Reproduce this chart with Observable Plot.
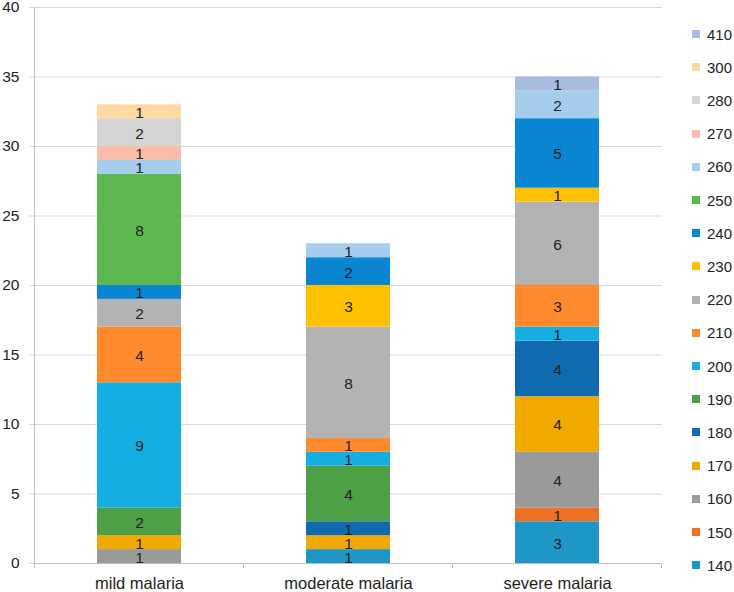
<!DOCTYPE html>
<html>
<head>
<meta charset="utf-8">
<script src="https://cdn.jsdelivr.net/npm/d3@7"></script>
<script src="https://cdn.jsdelivr.net/npm/@observablehq/plot@0.6"></script>
<style>
  html, body { margin: 0; padding: 0; background: #fff; }
  #wrap { position: relative; width: 734px; height: 592px; font-family: "Liberation Sans", Arial, sans-serif; }
  #legend { position: absolute; left: 692px; top: 0; }
  .item { position: absolute; left: 0; display: flex; align-items: center; white-space: nowrap; font-size: 15px; color: #222; }
  .sw { width: 8px; height: 8px; margin-right: 7px; flex: none; }
</style>
</head>
<body>
<div id="wrap"><div id="chart"></div><div id="legend"></div></div>
<script>
const categories = ["mild malaria", "moderate malaria", "severe malaria"];
const sizes = ["140","150","160","170","180","190","200","210","220","230","240","250","260","270","280","300","410"];
const colors = ["#1F97C6","#EC7125","#9A9A9A","#F0A900","#0F6BAE","#4EA047","#14AEE2","#FF8A2E","#B3B3B3","#FFC000","#0A85D2","#5DB852","#A6CDEB","#FCBCAA","#D4D4D4","#FFD9A3","#A7BCDF"];
const mild     = [0,0,1,1,0,2,9,4,2,0,1,8,1,1,2,1,0];
const moderate = [1,0,0,1,1,4,1,1,8,3,2,0,1,0,0,0,0];
const severe   = [3,1,4,4,4,0,1,3,6,1,5,0,2,0,0,0,1];
const yTicks = [0,5,10,15,20,25,30,35,40];

const series = [mild, moderate, severe];
const rows = [];
categories.forEach((c, ci) => {
  sizes.forEach((s, si) => {
    const n = series[ci][si];
    if (n > 0) rows.push({cat: c, size: s, n});
  });
});

const boundaryTicks = (index, scales, values, dims) => {
  const x = scales.x;
  const step = x.step ? x.step() : (x.bandwidth() / 0.4);
  const g = d3.create("svg:g").attr("stroke", "#bfbfbf").attr("stroke-width", 1);
  const y0 = dims.height - dims.marginBottom;
  const xs = [];
  categories.forEach((c) => { xs.push(x(c) + x.bandwidth() / 2 - step / 2); });
  xs.push(x(categories[categories.length - 1]) + x.bandwidth() / 2 + step / 2);
  xs.forEach(px => g.append("line").attr("x1", px).attr("x2", px).attr("y1", y0).attr("y2", y0 + 5));
  return g.node();
};

const chart = Plot.plot({
  width: 670,
  height: 592,
  marginLeft: 34,
  marginRight: 8,
  marginTop: 7,
  marginBottom: 29,
  style: { fontFamily: "Liberation Sans, Arial, sans-serif", background: "#fff" },
  x: { domain: categories, paddingInner: 0.6, paddingOuter: 0.3, label: null },
  y: { domain: [0, 40], ticks: yTicks, label: null },
  color: { domain: sizes, range: colors },
  marks: [
    Plot.gridY(yTicks, { stroke: "#d9d9d9", strokeOpacity: 1 }),
    Plot.axisY(yTicks, { tickSize: 5, tickPadding: 10, stroke: "#d9d9d9", fontSize: 15.5, fill: "#222", label: null }),
    Plot.axisX({ tickSize: 0, tickPadding: 14, fontSize: 16.5, fill: "#222", label: null }),
    Plot.barY(rows, Plot.stackY({ x: "cat", y: "n", z: "size", fill: "size", order: sizes })),
    Plot.text(rows, Plot.stackY({ x: "cat", y: "n", z: "size", text: "n", order: sizes, fill: "#222", fontSize: 15.5, dy: 1 })),
    Plot.frame({ anchor: "left", stroke: "#bfbfbf" }),
    Plot.ruleY([0], { stroke: "#bfbfbf" }),
    boundaryTicks
  ]
});
document.getElementById("chart").appendChild(chart);

const legend = document.getElementById("legend");
const top0 = 34, gap = 33.2;
sizes.slice().reverse().forEach((s, i) => {
  const idx = sizes.indexOf(s);
  const d = document.createElement("div");
  d.className = "item";
  d.style.top = (top0 + i * gap - 9) + "px";
  d.style.height = "18px";
  d.innerHTML = `<span class="sw" style="background:${colors[idx]}"></span><span>${s}</span>`;
  legend.appendChild(d);
});
</script>
</body>
</html>
